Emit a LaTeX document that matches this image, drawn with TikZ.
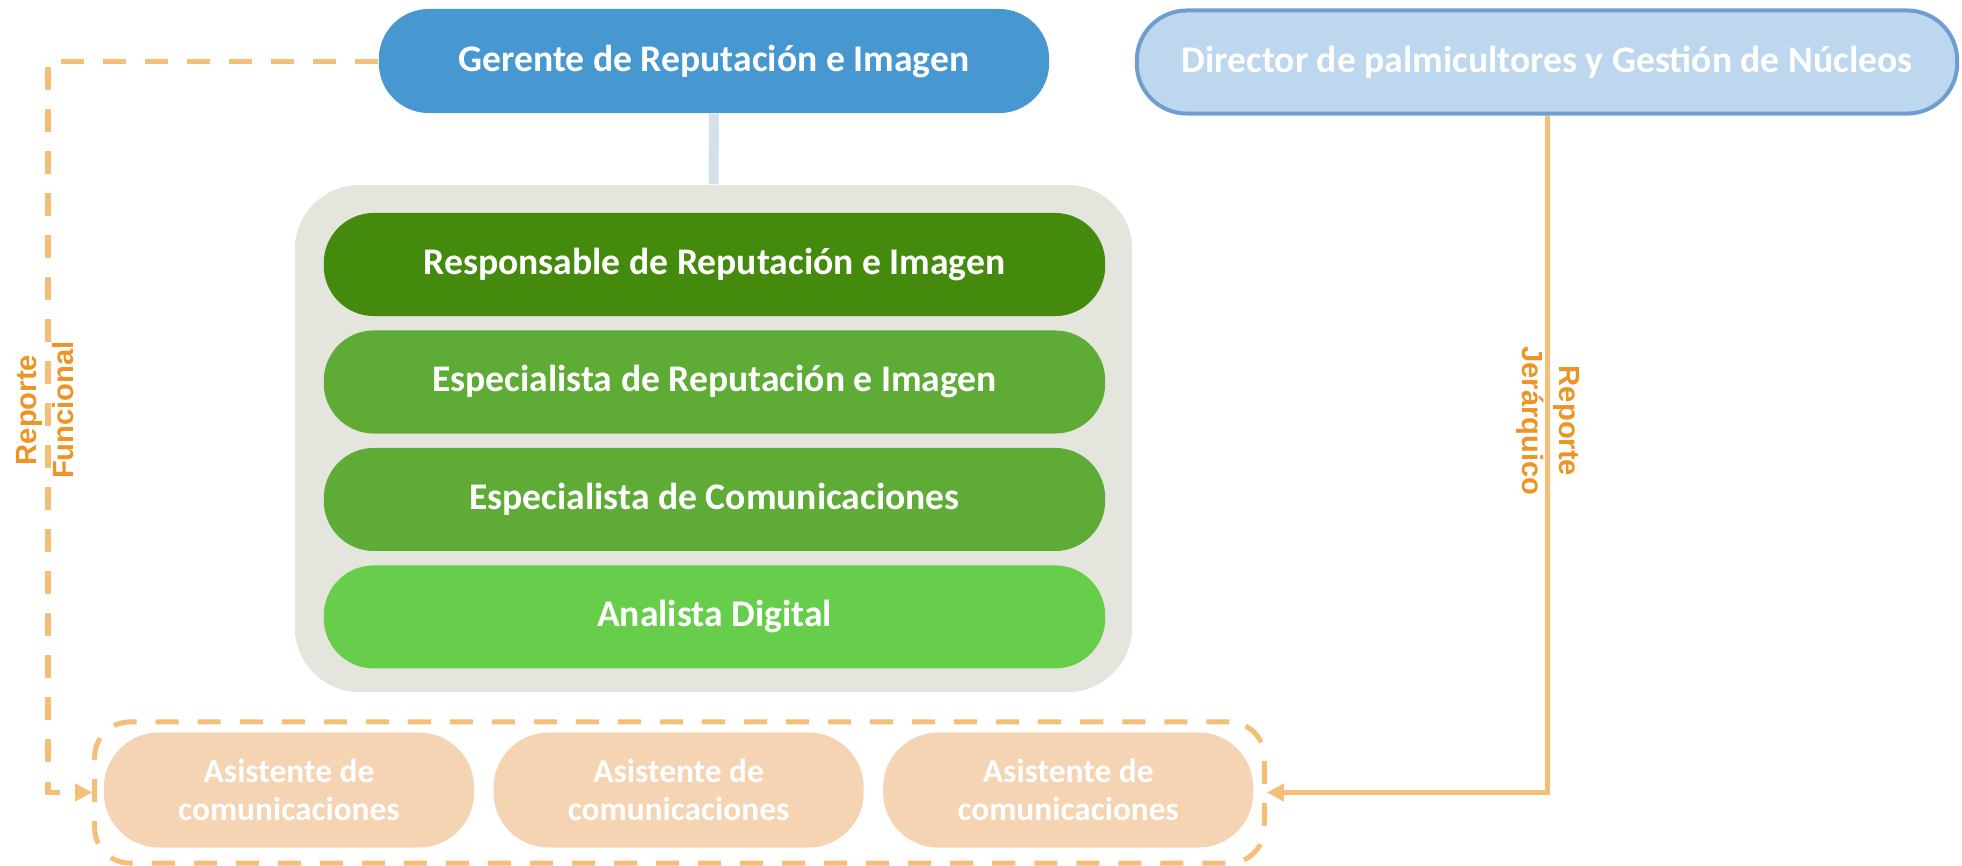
\documentclass[tikz,border=0pt]{standalone}
\usepackage{fontspec}
\setmainfont{Carlito}
\newfontfamily\labelfont{Liberation Sans}
\usetikzlibrary{positioning,arrows.meta}
\definecolor{gerblue}{HTML}{4797D0}
\definecolor{dirfill}{HTML}{BDD7EE}
\definecolor{dirdraw}{HTML}{6E9DD2}
\definecolor{greybg}{HTML}{E4E5DD}
\definecolor{linkgrey}{HTML}{D6E0E8}
\definecolor{darkgreen}{HTML}{438A0D}
\definecolor{midgreen}{HTML}{5EAB36}
\definecolor{lightgreen}{HTML}{66CE4A}
\definecolor{asistfill}{HTML}{F5D4B3}
\definecolor{lineorange}{HTML}{F5BF78}
\definecolor{labelorange}{HTML}{EE9427}

\begin{document}
\begin{tikzpicture}[
        x=0.01cm, y=-0.01cm,
        pill/.style={rounded corners=0.5cm, minimum height=1.03cm, text=white,
            font=\bfseries\fontsize{10.7}{12.8}\selectfont, align=center},
        greenbox/.style={pill, minimum width=7.81cm},
        asist/.style={pill, rounded corners=0.55cm, minimum width=3.70cm,
            minimum height=1.15cm, fill=asistfill,
            font=\bfseries\fontsize{9.5}{10.8}\selectfont},
        report/.style={draw=lineorange, line width=0.05cm},
        replabel/.style={text=labelorange, align=center,
            font=\labelfont\bfseries\fontsize{8.3}{10.6}\selectfont}
    ]
        \useasboundingbox (0,0) rectangle (1962,866);

        % top row
        \node[pill, fill=gerblue, minimum width=6.70cm, minimum height=1.04cm] (ger) at (714,61)
            {Gerente de Reputación e Imagen};
        \node[pill, fill=dirfill, draw=dirdraw, line width=0.04cm, minimum width=8.20cm] (dir) at (1547,62)
            {Director de palmicultores y Gestión de Núcleos};

        % area block
        \node[fill=greybg, rounded corners=0.65cm, minimum width=8.37cm, minimum height=5.07cm] (team) at (713.5,438.5) {};
        \draw[line width=0.1cm, draw=linkgrey] (ger.south) -- (team.north);

        \node[greenbox, fill=darkgreen] (resp) at (714.5,264.5) {Responsable de Reputación e Imagen};
        \node[greenbox, fill=midgreen, below=0.13cm of resp] (espri) {Especialista de Reputación e Imagen};
        \node[greenbox, fill=midgreen, below=0.13cm of espri] (espcom) {Especialista de Comunicaciones};
        \node[greenbox, fill=lightgreen, below=0.13cm of espcom] (ana) {Analista Digital};

        % assistants
        \node[report, dash pattern=on 0.23cm off 0.19cm, rounded corners=0.35cm,
            minimum width=11.69cm, minimum height=1.41cm] (crew) at (679.5,792.5) {};
        \node[asist] (asa) at (289,790) {Asistente de\\comunicaciones};
        \node[asist, right=0.18cm of asa] (asb) {Asistente de\\comunicaciones};
        \node[asist, right=0.18cm of asb] (asc) {Asistente de\\comunicaciones};

        % reporting lines
        \coordinate (fcorner) at (48,61);
        \draw[report, dash pattern=on 0.23cm off 0.19cm, -{Triangle[length=0.17cm,width=0.17cm]}]
            (ger.west) -- (fcorner) |- (crew.west);
        \draw[report, -{Triangle[length=0.17cm,width=0.17cm]}] (dir.south) |- (crew.east);

        \node[replabel, rotate=90] (funlabel) at (45,410) {Reporte\\Funcional};
        \node[replabel, rotate=-90] (jerlabel) at (1548,421) {Reporte\\Jerárquico};
    \end{tikzpicture}
\end{document}
